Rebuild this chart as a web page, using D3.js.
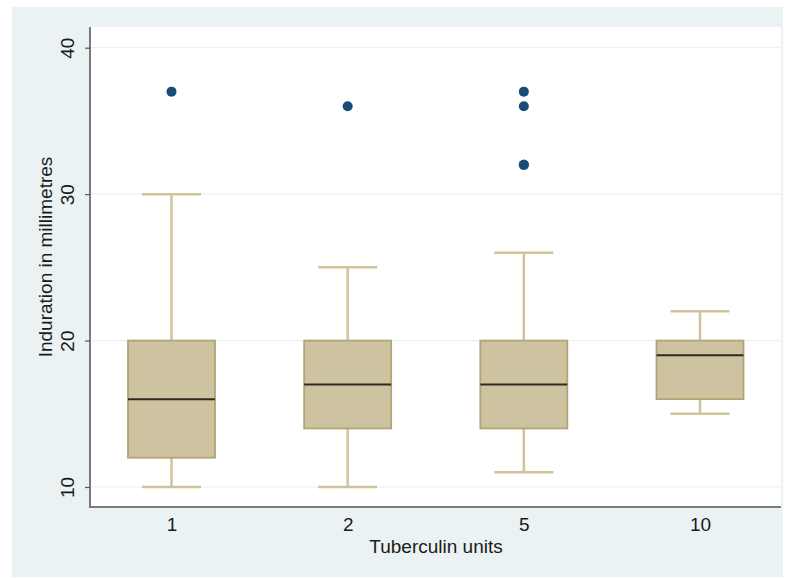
<!DOCTYPE html>
<html>
<head>
<meta charset="utf-8">
<script src="https://cdn.jsdelivr.net/npm/d3@7"></script>
<style>
  html, body { margin: 0; padding: 0; background: #ffffff; }
  svg { display: block; }
  text { font-family: "Liberation Sans", Arial, Helvetica, sans-serif; fill: #1a1a1a; }
</style>
</head>
<body>
<svg id="chart" width="788" height="578"></svg>
<script>
// Tuberculin dose groups and their box-plot summaries (mm of induration)
const categories = ["1", "2", "5", "10"];
const lowerWhisker = [10, 10, 11, 15];
const q1 = [12, 14, 14, 16];
const median = [16, 17, 17, 19];
const q3 = [20, 20, 20, 20];
const upperWhisker = [30, 25, 26, 22];
const outliers = [[37], [36], [32, 32, 36, 37], []];
const yTicks = [10, 20, 30, 40];

const svg = d3.select("#chart");
const FS = 19;

// outer graph region
svg.append("rect").attr("x", 12).attr("y", 7).attr("width", 771).attr("height", 570)
  .attr("fill", "#eaf2f3");

const plot = { left: 91, top: 27, right: 781, bottom: 507 };
svg.append("rect").attr("x", plot.left).attr("y", plot.top)
  .attr("width", plot.right - plot.left).attr("height", plot.bottom - plot.top)
  .attr("fill", "#ffffff");

const y = d3.scaleLinear().domain([10, 40]).range([487, 47.7]);
const x = d3.scalePoint().domain(categories).range([171.5, 700]);

// grid lines
svg.append("g").selectAll("line").data(yTicks).join("line")
  .attr("x1", plot.left).attr("x2", plot.right)
  .attr("y1", d => y(d)).attr("y2", d => y(d))
  .attr("stroke", "#eaf2f3").attr("stroke-width", 1.2);

// y axis
const yAxis = svg.append("g").attr("transform", `translate(${plot.left - 1},0)`)
  .call(d3.axisLeft(y).tickValues(yTicks).tickSize(5).tickPadding(6));
yAxis.select(".domain").attr("d", `M0,${plot.top}V${plot.bottom}`)
  .attr("stroke", "#7a7a7a").attr("stroke-width", 2);
yAxis.selectAll(".tick line").attr("stroke", "#555").attr("stroke-width", 1.2);
yAxis.selectAll(".tick text")
  .attr("font-size", FS).attr("fill", "#1a1a1a")
  .attr("text-anchor", "middle")
  .attr("transform", "translate(-23,0) rotate(-90)")
  .attr("x", 0).attr("dy", "0.35em");

// x axis
const xAxis = svg.append("g").attr("transform", `translate(0,${plot.bottom})`)
  .call(d3.axisBottom(x).tickSize(0).tickPadding(11));
xAxis.select(".domain").attr("d", `M${plot.left - 2},0H${plot.right}`)
  .attr("stroke", "#7a7a7a").attr("stroke-width", 2);
xAxis.selectAll(".tick text").attr("font-size", FS).attr("fill", "#1a1a1a");

// axis titles
svg.append("text").attr("x", 436).attr("y", 553).attr("text-anchor", "middle")
  .attr("font-size", FS).text("Tuberculin units");
svg.append("text").attr("transform", "translate(52,257) rotate(-90)")
  .attr("text-anchor", "middle").attr("font-size", FS).text("Induration in millimetres");

// boxes
const boxW = 87, capW = 59;
const whiskerColor = "#cfc39b", boxFill = "#cdc3a1", boxStroke = "#b3a474";
const groups = svg.append("g").selectAll("g").data(categories).join("g");

groups.append("line")
  .attr("x1", d => x(d)).attr("x2", d => x(d))
  .attr("y1", (d, i) => y(upperWhisker[i])).attr("y2", (d, i) => y(q3[i]))
  .attr("stroke", whiskerColor).attr("stroke-width", 2.5);
groups.append("line")
  .attr("x1", d => x(d)).attr("x2", d => x(d))
  .attr("y1", (d, i) => y(q1[i])).attr("y2", (d, i) => y(lowerWhisker[i]))
  .attr("stroke", whiskerColor).attr("stroke-width", 2.5);
groups.append("line")
  .attr("x1", d => x(d) - capW / 2).attr("x2", d => x(d) + capW / 2)
  .attr("y1", (d, i) => y(upperWhisker[i])).attr("y2", (d, i) => y(upperWhisker[i]))
  .attr("stroke", whiskerColor).attr("stroke-width", 2.5);
groups.append("line")
  .attr("x1", d => x(d) - capW / 2).attr("x2", d => x(d) + capW / 2)
  .attr("y1", (d, i) => y(lowerWhisker[i])).attr("y2", (d, i) => y(lowerWhisker[i]))
  .attr("stroke", whiskerColor).attr("stroke-width", 2.5);
groups.append("rect")
  .attr("x", d => x(d) - boxW / 2).attr("width", boxW)
  .attr("y", (d, i) => y(q3[i])).attr("height", (d, i) => y(q1[i]) - y(q3[i]))
  .attr("fill", boxFill).attr("stroke", boxStroke).attr("stroke-width", 1.8);
groups.append("line")
  .attr("x1", d => x(d) - boxW / 2).attr("x2", d => x(d) + boxW / 2)
  .attr("y1", (d, i) => y(median[i])).attr("y2", (d, i) => y(median[i]))
  .attr("stroke", "#2e2b22").attr("stroke-width", 2);

// outside values
const pts = categories.flatMap((c, i) => outliers[i].map(v => ({ c, v })));
svg.append("g").selectAll("circle").data(pts).join("circle")
  .attr("cx", d => x(d.c)).attr("cy", d => y(d.v)).attr("r", 5)
  .attr("fill", "#1a4a7a");
</script>
</body>
</html>
